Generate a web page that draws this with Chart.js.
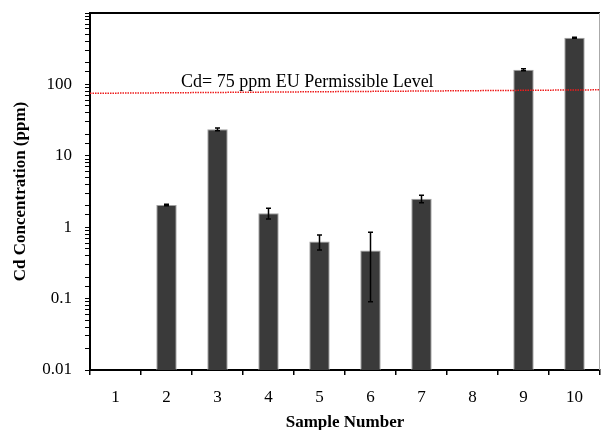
<!DOCTYPE html>
<html>
<head>
<meta charset="utf-8">
<script src="https://cdn.jsdelivr.net/npm/chart.js@4/dist/chart.umd.min.js"></script>
<style>
  html, body { margin: 0; padding: 0; background: #fff; overflow: hidden; }
  #wrap { width: 601px; height: 436px; }
</style>
</head>
<body>
<div id="wrap"><canvas id="cdChart" width="601" height="436"></canvas></div>
<script>
var samples = ["1", "2", "3", "4", "5", "6", "7", "8", "9", "10"];
var cdValues = [null, 2.05, 23.5, 1.57, 0.63, 0.47, 2.5, null, 160, 450];
var cdErrors = [null, 0.05, 1, 0.27, 0.15, 0.38, 0.3, null, 5, 8];
var limitX = [0, 1];
var limitY = [75, 84];
var limitText = "Cd= 75 ppm EU Permissible Level";
var yLabels = [0.01, 0.1, 1, 10, 100];

var serif = "'Liberation Serif', 'Times New Roman', serif";

var errorBars = {
    id: 'errorBars',
    afterDatasetsDraw: function (chart) {
        var ctx = chart.ctx,
            xs = chart.scales.x,
            ys = chart.scales.y;
        ctx.save();
        ctx.strokeStyle = '#000';
        ctx.lineWidth = 1.5;
        cdValues.forEach(function (v, i) {
            if (v === null) return;
            var x = xs.getPixelForValue(i),
                hi = ys.getPixelForValue(v + cdErrors[i]),
                lo = ys.getPixelForValue(v - cdErrors[i]);
            ctx.beginPath();
            ctx.moveTo(x, hi); ctx.lineTo(x, lo);
            ctx.moveTo(x - 2.5, hi); ctx.lineTo(x + 2.5, hi);
            ctx.moveTo(x - 2.5, lo); ctx.lineTo(x + 2.5, lo);
            ctx.stroke();
        });
        // frame
        var a = chart.chartArea;
        ctx.strokeStyle = '#000';
        ctx.lineWidth = 2;
        ctx.beginPath();
        ctx.moveTo(a.left, a.top); ctx.lineTo(a.right, a.top);
        ctx.stroke();
        ctx.strokeStyle = '#aaa';
        ctx.lineWidth = 1;
        ctx.beginPath();
        ctx.moveTo(a.right - 0.5, a.top); ctx.lineTo(a.right - 0.5, a.bottom);
        ctx.stroke();
        // limit label
        ctx.fillStyle = '#000';
        ctx.font = "18px " + serif;
        ctx.textBaseline = 'alphabetic';
        ctx.fillText(limitText, a.left + 91, ys.getPixelForValue(limitY[0]) - 6);
        ctx.restore();
    }
};

new Chart(document.getElementById('cdChart'), {
    type: 'bar',
    data: {
        labels: samples,
        datasets: [
            {
                type: 'line',
                data: limitX.map(function (x, i) { return {x: x, y: limitY[i]}; }),
                xAxisID: 'x2',
                borderColor: '#ee1c1c',
                borderWidth: 1.5,
                borderDash: [1.5, 1],
                pointRadius: 0,
                fill: false,
                order: 0
            },
            {
                data: cdValues,
                backgroundColor: '#3a3a3a',
                borderColor: '#a0a0a0',
                borderWidth: 1,
                grouped: false,
                barPercentage: 0.4,
                categoryPercentage: 1,
                order: 1
            }
        ]
    },
    options: {
        responsive: false,
        animation: false,
        layout: {padding: {top: 13, right: 1, left: 0, bottom: 0}},
        plugins: {legend: {display: false}, tooltip: {enabled: false}},
        scales: {
            x: {
                offset: true,
                grid: {offset: true, drawOnChartArea: false, drawTicks: true, tickLength: 5, color: '#000', lineWidth: 1.5},
                border: {color: '#000', width: 2},
                ticks: {color: '#000', font: {family: serif, size: 17}, padding: 12},
                title: {display: true, text: 'Sample Number', color: '#000',
                        font: {family: serif, size: 17, weight: 'bold'}, padding: {top: 4, bottom: 3}},
                afterFit: function (s) { s.height = 66; s.paddingLeft = 0; s.paddingRight = 0; }
            },
            x2: {
                type: 'linear',
                display: false,
                offset: false,
                grid: {offset: false},
                min: 0,
                max: 1
            },
            y: {
                type: 'logarithmic',
                min: 0.01,
                max: 1000,
                grid: {drawOnChartArea: false, tickLength: 5, color: '#000', lineWidth: 1},
                border: {color: '#000', width: 2},
                ticks: {
                    color: '#000',
                    font: {family: serif, size: 17},
                    padding: 13,
                    autoSkip: false,
                    callback: function (v) {
                        return yLabels.indexOf(v) >= 0 ? String(v) : '';
                    }
                },
                title: {display: true, text: 'Cd Concentration (ppm)', color: '#000',
                        font: {family: serif, size: 17, weight: 'bold'}, padding: {top: 10, bottom: 0}},
                afterFit: function (s) { s.width = 90; s.paddingTop = 0; s.paddingBottom = 0; }
            }
        }
    },
    plugins: [errorBars]
});
</script>
</body>
</html>
